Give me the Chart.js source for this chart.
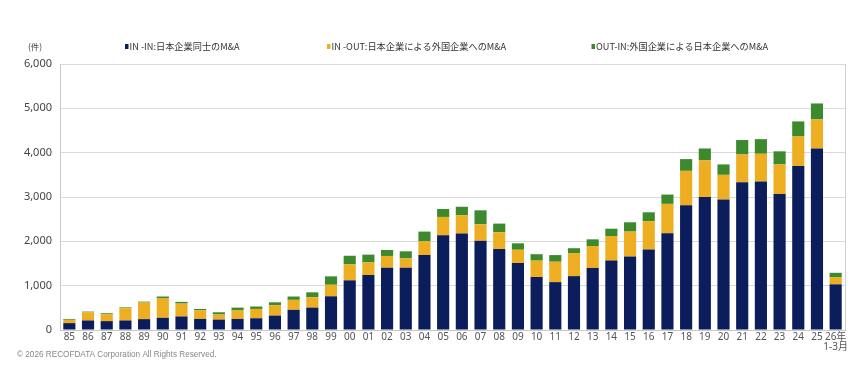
<!DOCTYPE html>
<html><head><meta charset="utf-8">
<script src="https://cdn.jsdelivr.net/npm/chart.js@4"></script>
<style>html,body{margin:0;padding:0;background:#fff;}#wrap{width:857px;height:374px;position:relative;}</style>
</head><body><div id="wrap"><canvas id="c" width="857" height="374"></canvas></div>
<script>
const categories = ['85','86','87','88','89','90','91','92','93','94','95','96','97','98','99','00','01','02','03','04','05','06','07','08','09','10','11','12','13','14','15','16','17','18','19','20','21','22','23','24','25',['26年','1-3月']];
const inIn  = [155,215,200,215,245,275,305,250,235,250,265,325,455,505,760,1120,1240,1405,1405,1690,2135,2175,2015,1825,1510,1195,1080,1215,1400,1565,1660,1815,2180,2815,3000,2945,3335,3350,3065,3700,4095,1030];
const inOut = [75,185,158,275,375,435,290,195,115,190,210,235,225,235,260,360,285,265,210,310,415,415,370,380,300,370,460,520,495,555,560,640,665,775,825,555,625,625,670,665,655,155];
const outIn = [20,15,20,20,20,45,40,30,50,65,55,65,75,110,190,195,175,135,160,220,180,190,315,195,145,145,150,110,150,165,210,200,210,265,270,235,325,330,295,340,360,105];
const seriesNames = ['IN -IN:日本企業同士のM&A','IN -OUT:日本企業による外国企業へのM&A','OUT-IN:外国企業による日本企業へのM&A'];
const yTicks = [0,1000,2000,3000,4000,5000,6000];
const unitLabel = '(件)';
const copyright = '© 2026 RECOFDATA Corporation All Rights Reserved.';

const colors = ['#0b1e5b','#eeae21','#3d8a2e'];
const legendX = [125, 327, 591.5];

const extras = {
  id:'extras',
  afterDraw(chart){
    const ctx = chart.ctx, a = chart.chartArea;
    ctx.save();
    ctx.strokeStyle = '#d0d0d0'; ctx.lineWidth = 1;
    ctx.beginPath(); ctx.moveTo(Math.round(a.right)+0.5, a.top); ctx.lineTo(Math.round(a.right)+0.5, a.bottom); ctx.stroke();
    ctx.font = '9.2px "Noto Sans CJK JP"';
    ctx.textBaseline = 'middle'; ctx.textAlign = 'left';
    chart.data.datasets.forEach((ds,i)=>{
      ctx.fillStyle = ds.backgroundColor;
      ctx.fillRect(legendX[i], 44, 3.5, 5);
      ctx.fillStyle = '#333';
      ctx.fillText(ds.label, legendX[i]+4.5, 46.5);
    });
    ctx.fillStyle = '#444';
    ctx.font = '8.5px "Noto Sans CJK JP"';
    ctx.fillText(unitLabel, 28, 47);
    ctx.fillStyle = '#888';
    ctx.font = '8.2px "Liberation Sans"';
    ctx.fillText(copyright, 17, 354.5);
    ctx.restore();
  }
};

new Chart(document.getElementById('c'), {
  type:'bar',
  data:{
    labels: categories,
    datasets:[
      {label:seriesNames[0], data:inIn, backgroundColor:colors[0]},
      {label:seriesNames[1], data:inOut, backgroundColor:colors[1]},
      {label:seriesNames[2], data:outIn, backgroundColor:colors[2]}
    ]
  },
  options:{
    responsive:false, animation:false,
    layout:{padding:{top:64,left:0,right:12,bottom:20}},
    datasets:{bar:{categoryPercentage:1, barPercentage:0.65, borderWidth:0}},
    plugins:{legend:{display:false}, tooltip:{enabled:false}},
    scales:{
      x:{stacked:true,
        grid:{display:false, drawTicks:false},
        border:{color:'#c8c8c8'},
        ticks:{padding:2, color:'#555', font:{size:10, lineHeight:1, family:'"Noto Sans", "Noto Sans CJK JP"'}, maxRotation:0, autoSkip:false}
      },
      y:{stacked:true, min:0, max:6000,
        afterFit(s){ s.width = 60; },
        afterBuildTicks(s){ s.ticks = yTicks.map(v=>({value:v})); },
        grid:{color:'#d9d9d9', drawTicks:false},
        border:{color:'#c8c8c8'},
        ticks:{padding:8, color:'#444', font:{size:11, family:'"Noto Sans"'},
          callback:v=>v.toLocaleString('en-US')}
      }
    }
  },
  plugins:[extras]
});
</script></body></html>
